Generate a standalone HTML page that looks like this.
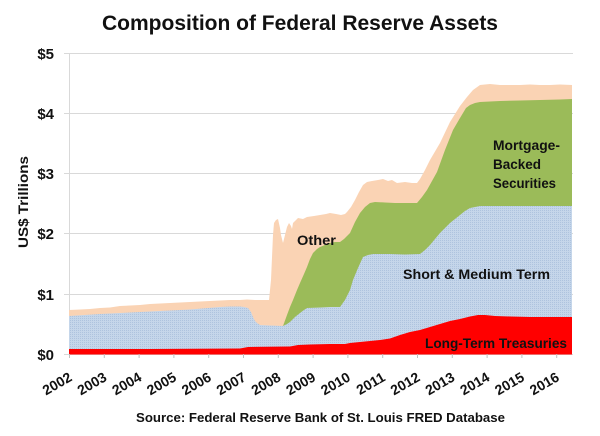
<!DOCTYPE html>
<html><head><meta charset="utf-8"><style>
html,body{margin:0;padding:0;background:#fff;}
svg{display:block;}
text{font-family:"Liberation Sans",Arial,sans-serif;font-weight:bold;fill:#111;}
</style></head><body>
<svg width="600" height="436" viewBox="0 0 600 436" xmlns="http://www.w3.org/2000/svg">
<defs>
<pattern id="dots" width="2" height="2" patternUnits="userSpaceOnUse">
<rect width="2" height="2" fill="#c5d6ea"/>
<rect width="1" height="1" fill="#aec3de"/>
</pattern>
</defs>
<rect width="600" height="436" fill="#fff"/>
<text x="300" y="30" font-size="21" text-anchor="middle" textLength="396" lengthAdjust="spacingAndGlyphs">Composition of Federal Reserve Assets</text>

<g stroke="#d9d9d9" stroke-width="1">
<line x1="64" y1="53.5" x2="573" y2="53.5"/>
<line x1="64" y1="113.5" x2="573" y2="113.5"/>
<line x1="64" y1="173.5" x2="573" y2="173.5"/>
<line x1="64" y1="233.5" x2="573" y2="233.5"/>
<line x1="64" y1="294.5" x2="573" y2="294.5"/>
<line x1="64" y1="354.5" x2="573" y2="354.5"/>
<line x1="69.5" y1="53" x2="69.5" y2="358"/>
</g>

<!-- Other (peach) -->
<path fill="#fad3b4" d="M69,310 L80,309.5 L90,309 L100,308 L110,307.5 L120,306 L130,305.5 L140,305 L150,304 L160,303.5 L170,303 L180,302.5 L190,302 L200,301.5 L210,301 L220,300.5 L230,300 L240,300 L247,299.5 L255,300 L262,300 L269,300 L271,280 L273,235 L274,223 L276,220 L278,219 L280,228 L281,235 L283,243 L285,235 L287,227 L289,223 L291,226 L292,229 L293,223 L295,221 L298,218 L303,219 L307,217 L314,216 L320,215 L326,214 L330,213 L336,214 L341,215 L345,214 L347,212 L351,207 L355,200 L359,192 L363,185 L367,182 L372,181 L378,180 L383,179 L388,181 L392,180 L397,183 L405,182 L412,183 L417,183 L420,179 L425,170 L430,160 L440,143 L450,122 L460,106 L467,97 L473,90 L480,85 L490,84 L500,85 L510,85 L520,85 L530,84.5 L540,85 L550,85 L560,84.5 L572,85 L572,354 L69,354 Z"/>

<!-- MBS (green) -->
<path fill="#9bbb59" d="M283,326 L287,315 L290,307 L293,300 L297,290 L300,283 L304,274 L307,267 L310,259 L313,253 L317,249 L320,247 L325,245 L330,243 L335,242 L340,242 L344,239 L347,236 L350,233 L355,222 L360,213 L365,207 L370,203 L375,202 L385,202.5 L395,203 L405,203 L417,203 L422,197 L427,190 L432,181 L437,172 L445,150 L453,130 L460,118 L466,108 L470,105 L475,103 L480,102 L500,101 L520,100.5 L540,100 L560,99.5 L572,99 L572,354 L283,354 Z"/>

<!-- Short & Medium (blue) -->
<path fill="url(#dots)" d="M69,316 L100,314 L130,312.5 L160,311 L190,309.5 L220,307 L230,306.5 L240,306.5 L244,307 L248,308 L251,312 L253,317 L255,321 L257,323 L260,325 L270,325.5 L283,326 L287,324 L290,322 L295,317 L300,313 L304,310 L307,308 L320,307.5 L330,307 L340,307 L345,300 L350,290 L353,280 L358,268 L363,257 L368,255 L373,254 L390,254 L405,254.5 L420,254 L425,250 L430,245 L435,239 L440,233 L450,223 L460,215 L465,211 L470,208 L475,207 L480,206 L572,206 L572,354 L69,354 Z"/>

<!-- Long-term (red) -->
<path fill="#ff0000" d="M69,349 L150,349 L240,348.5 L248,347 L290,346.5 L298,345 L310,344.5 L330,344 L345,344 L350,343 L365,341.5 L380,340 L390,338.5 L400,335 L410,332 L420,330 L430,327 L440,324 L450,321 L460,319 L470,316.5 L478,315 L485,315 L495,316 L510,316.5 L530,317 L572,317 L572,354.5 L69,354.5 Z"/>

<!-- x ticks -->
<g stroke="#bfbfbf" stroke-width="1">
<line x1="69.5" y1="354" x2="69.5" y2="358"/>
<line x1="104.3" y1="354" x2="104.3" y2="358"/>
<line x1="139.1" y1="354" x2="139.1" y2="358"/>
<line x1="173.9" y1="354" x2="173.9" y2="358"/>
<line x1="208.7" y1="354" x2="208.7" y2="358"/>
<line x1="243.5" y1="354" x2="243.5" y2="358"/>
<line x1="278.3" y1="354" x2="278.3" y2="358"/>
<line x1="313.1" y1="354" x2="313.1" y2="358"/>
<line x1="347.9" y1="354" x2="347.9" y2="358"/>
<line x1="382.7" y1="354" x2="382.7" y2="358"/>
<line x1="417.5" y1="354" x2="417.5" y2="358"/>
<line x1="452.3" y1="354" x2="452.3" y2="358"/>
<line x1="487.1" y1="354" x2="487.1" y2="358"/>
<line x1="521.9" y1="354" x2="521.9" y2="358"/>
<line x1="556.7" y1="354" x2="556.7" y2="358"/>
</g>

<!-- y labels -->
<g font-size="15" text-anchor="end">
<text x="54" y="59">$5</text>
<text x="54" y="119">$4</text>
<text x="54" y="179">$3</text>
<text x="54" y="239">$2</text>
<text x="54" y="300">$1</text>
<text x="54" y="360">$0</text>
</g>
<text transform="translate(28,202) rotate(-90)" font-size="14" text-anchor="middle" textLength="92" lengthAdjust="spacingAndGlyphs">US$ Trillions</text>

<!-- x labels -->
<g font-size="14" text-anchor="end">
<text transform="translate(73,380) rotate(-30)">2002</text>
<text transform="translate(107.8,380) rotate(-30)">2003</text>
<text transform="translate(142.6,380) rotate(-30)">2004</text>
<text transform="translate(177.4,380) rotate(-30)">2005</text>
<text transform="translate(212.2,380) rotate(-30)">2006</text>
<text transform="translate(247,380) rotate(-30)">2007</text>
<text transform="translate(281.8,380) rotate(-30)">2008</text>
<text transform="translate(316.6,380) rotate(-30)">2009</text>
<text transform="translate(351.4,380) rotate(-30)">2010</text>
<text transform="translate(386.2,380) rotate(-30)">2011</text>
<text transform="translate(421,380) rotate(-30)">2012</text>
<text transform="translate(455.8,380) rotate(-30)">2013</text>
<text transform="translate(490.6,380) rotate(-30)">2014</text>
<text transform="translate(525.4,380) rotate(-30)">2015</text>
<text transform="translate(560.2,380) rotate(-30)">2016</text>
</g>

<text x="136" y="422" font-size="13" textLength="369" lengthAdjust="spacingAndGlyphs">Source: Federal Reserve Bank of St. Louis FRED Database</text>

<!-- series labels -->
<text x="297" y="245" font-size="14" textLength="39" lengthAdjust="spacingAndGlyphs">Other</text>
<text x="493" y="150" font-size="14" textLength="67" lengthAdjust="spacingAndGlyphs">Mortgage-</text>
<text x="493" y="169" font-size="14" textLength="48" lengthAdjust="spacingAndGlyphs">Backed</text>
<text x="493" y="188" font-size="14" textLength="63" lengthAdjust="spacingAndGlyphs">Securities</text>
<text x="403" y="279" font-size="14" textLength="147" lengthAdjust="spacingAndGlyphs">Short &amp; Medium Term</text>
<text x="425" y="348" font-size="14" textLength="142" lengthAdjust="spacingAndGlyphs">Long-Term Treasuries</text>
</svg>
</body></html>
